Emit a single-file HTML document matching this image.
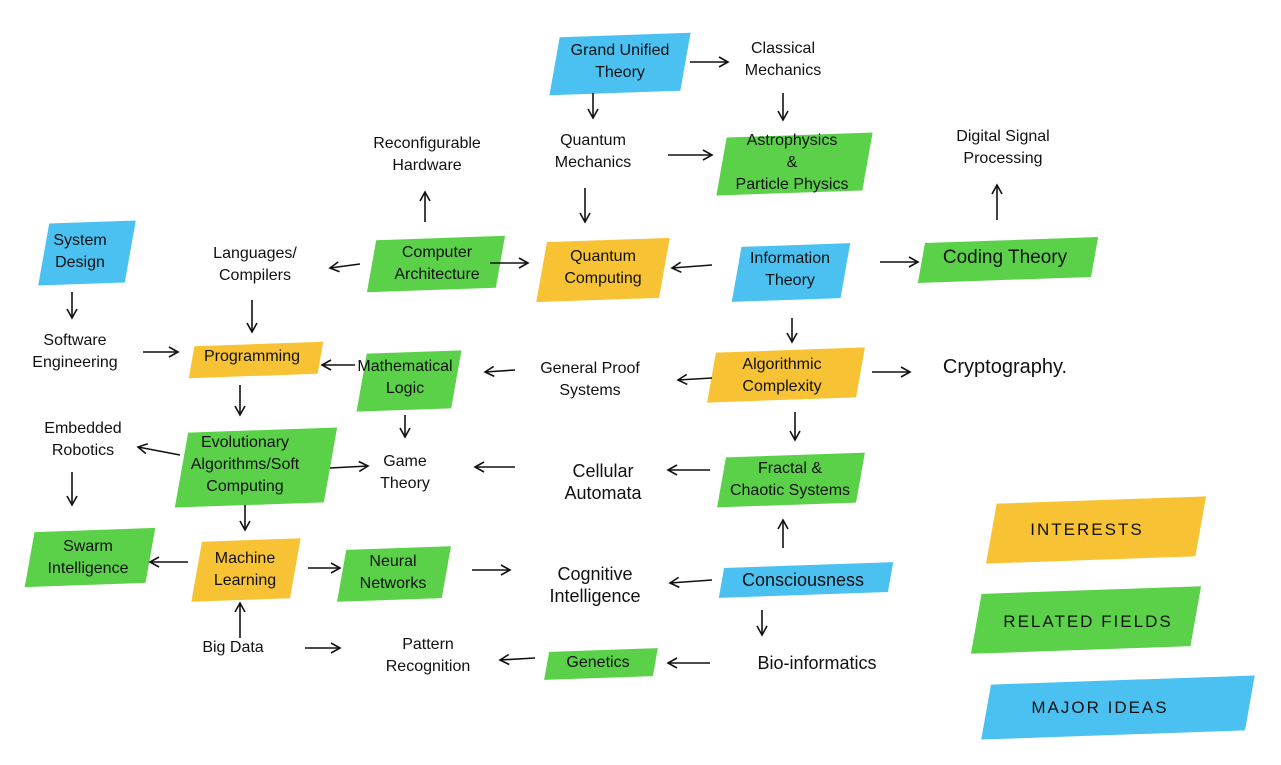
<!DOCTYPE html>
<html><head><meta charset="utf-8"><style>
html,body{margin:0;padding:0;background:#fff;}
body{width:1281px;height:765px;position:relative;overflow:hidden;font-family:"Liberation Sans",sans-serif;color:#111;}
.n{position:absolute;transform:translate(-50%,-50%);text-align:center;font-size:16px;line-height:22px;white-space:nowrap;z-index:2;}
.h{position:absolute;z-index:1;opacity:.85;transform:skewX(-12deg) rotate(-2deg);}
.y{background:#f6b812;}
.g{background:#3ec92a;}
.b{background:#2cb6ee;}
.lg{font-size:17px;letter-spacing:2px;}
svg{position:absolute;left:0;top:0;z-index:3;}
</style></head><body>
<!-- highlights -->
<div class="h b" style="left:555px;top:35px;width:130px;height:58px"></div>
<div class="h g" style="left:722px;top:135px;width:145px;height:58px"></div>
<div class="h b" style="left:44px;top:222px;width:86px;height:62px"></div>
<div class="h g" style="left:372px;top:238px;width:128px;height:52px"></div>
<div class="h y" style="left:542px;top:240px;width:122px;height:60px"></div>
<div class="h b" style="left:737px;top:245px;width:108px;height:55px"></div>
<div class="h g" style="left:922px;top:240px;width:172px;height:40px"></div>
<div class="h y" style="left:192px;top:344px;width:128px;height:32px"></div>
<div class="h g" style="left:362px;top:352px;width:94px;height:58px"></div>
<div class="h y" style="left:712px;top:350px;width:148px;height:50px"></div>
<div class="h g" style="left:182px;top:430px;width:148px;height:75px"></div>
<div class="h g" style="left:722px;top:455px;width:138px;height:50px"></div>
<div class="h g" style="left:30px;top:530px;width:120px;height:55px"></div>
<div class="h y" style="left:197px;top:540px;width:98px;height:60px"></div>
<div class="h g" style="left:342px;top:548px;width:104px;height:52px"></div>
<div class="h b" style="left:722px;top:565px;width:168px;height:30px"></div>
<div class="h g" style="left:547px;top:650px;width:108px;height:28px"></div>
<div class="h y" style="left:992px;top:500px;width:208px;height:60px"></div>
<div class="h g" style="left:977px;top:590px;width:218px;height:60px"></div>
<div class="h b" style="left:987px;top:680px;width:262px;height:55px"></div>
<!-- text -->
<div class="n" style="left:620px;top:62px">Grand Unified<br>Theory</div>
<div class="n" style="left:783px;top:60px">Classical<br>Mechanics</div>
<div class="n" style="left:593px;top:152px">Quantum<br>Mechanics</div>
<div class="n" style="left:792px;top:163px">Astrophysics<br>&amp;<br>Particle Physics</div>
<div class="n" style="left:427px;top:155px">Reconfigurable<br>Hardware</div>
<div class="n" style="left:1003px;top:148px">Digital Signal<br>Processing</div>
<div class="n" style="left:80px;top:252px">System<br>Design</div>
<div class="n" style="left:255px;top:265px">Languages/<br>Compilers</div>
<div class="n" style="left:437px;top:264px">Computer<br>Architecture</div>
<div class="n" style="left:603px;top:268px">Quantum<br>Computing</div>
<div class="n" style="left:790px;top:270px">Information<br>Theory</div>
<div class="n" style="left:1005px;top:258px;font-size:19px">Coding Theory</div>
<div class="n" style="left:75px;top:352px">Software<br>Engineering</div>
<div class="n" style="left:252px;top:357px">Programming</div>
<div class="n" style="left:405px;top:378px">Mathematical<br>Logic</div>
<div class="n" style="left:590px;top:380px">General Proof<br>Systems</div>
<div class="n" style="left:782px;top:376px">Algorithmic<br>Complexity</div>
<div class="n" style="left:1005px;top:367px;font-size:20px">Cryptography.</div>
<div class="n" style="left:83px;top:440px">Embedded<br>Robotics</div>
<div class="n" style="left:245px;top:465px">Evolutionary<br>Algorithms/Soft<br>Computing</div>
<div class="n" style="left:405px;top:473px">Game<br>Theory</div>
<div class="n" style="left:603px;top:482px;font-size:18px">Cellular<br>Automata</div>
<div class="n" style="left:790px;top:480px">Fractal &amp;<br>Chaotic Systems</div>
<div class="n" style="left:88px;top:558px">Swarm<br>Intelligence</div>
<div class="n" style="left:245px;top:570px">Machine<br>Learning</div>
<div class="n" style="left:393px;top:573px">Neural<br>Networks</div>
<div class="n" style="left:595px;top:585px;font-size:18px">Cognitive<br>Intelligence</div>
<div class="n" style="left:803px;top:580px;font-size:18px">Consciousness</div>
<div class="n" style="left:233px;top:648px">Big Data</div>
<div class="n" style="left:428px;top:656px">Pattern<br>Recognition</div>
<div class="n" style="left:598px;top:663px">Genetics</div>
<div class="n" style="left:817px;top:663px;font-size:18px">Bio-informatics</div>
<div class="n lg" style="left:1087px;top:530px">INTERESTS</div>
<div class="n lg" style="left:1088px;top:622px">RELATED FIELDS</div>
<div class="n lg" style="left:1100px;top:708px">MAJOR IDEAS</div>
<svg width="1281" height="765" viewBox="0 0 1281 765">
<defs><marker id="a" markerWidth="12" markerHeight="12" refX="10" refY="6" orient="auto" markerUnits="userSpaceOnUse"><path d="M1,1 L10,6 L1,11" fill="none" stroke="#111" stroke-width="1.6"/></marker></defs>
<g stroke="#111" stroke-width="1.6" fill="none" marker-end="url(#a)">
<line x1="690" y1="62" x2="728" y2="62"/>
<line x1="593" y1="93" x2="593" y2="118"/>
<line x1="783" y1="93" x2="783" y2="120"/>
<line x1="668" y1="155" x2="712" y2="155"/>
<line x1="585" y1="188" x2="585" y2="222"/>
<line x1="425" y1="222" x2="425" y2="192"/>
<line x1="997" y1="220" x2="997" y2="185"/>
<line x1="360" y1="264" x2="330" y2="268"/>
<line x1="490" y1="263" x2="528" y2="263"/>
<line x1="712" y1="265" x2="672" y2="268"/>
<line x1="880" y1="262" x2="918" y2="262"/>
<line x1="252" y1="300" x2="252" y2="332"/>
<line x1="72" y1="292" x2="72" y2="318"/>
<line x1="143" y1="352" x2="178" y2="352"/>
<line x1="355" y1="365" x2="322" y2="365"/>
<line x1="515" y1="370" x2="485" y2="372"/>
<line x1="792" y1="318" x2="792" y2="342"/>
<line x1="712" y1="378" x2="678" y2="380"/>
<line x1="872" y1="372" x2="910" y2="372"/>
<line x1="240" y1="385" x2="240" y2="415"/>
<line x1="405" y1="415" x2="405" y2="437"/>
<line x1="795" y1="412" x2="795" y2="440"/>
<line x1="180" y1="455" x2="138" y2="447"/>
<line x1="330" y1="468" x2="368" y2="466"/>
<line x1="515" y1="467" x2="475" y2="467"/>
<line x1="710" y1="470" x2="668" y2="470"/>
<line x1="72" y1="472" x2="72" y2="505"/>
<line x1="245" y1="505" x2="245" y2="530"/>
<line x1="783" y1="548" x2="783" y2="520"/>
<line x1="188" y1="562" x2="150" y2="562"/>
<line x1="308" y1="568" x2="340" y2="568"/>
<line x1="472" y1="570" x2="510" y2="570"/>
<line x1="712" y1="580" x2="670" y2="583"/>
<line x1="762" y1="610" x2="762" y2="635"/>
<line x1="240" y1="638" x2="240" y2="603"/>
<line x1="305" y1="648" x2="340" y2="648"/>
<line x1="535" y1="658" x2="500" y2="660"/>
<line x1="710" y1="663" x2="668" y2="663"/>
</g></svg>
</body></html>
